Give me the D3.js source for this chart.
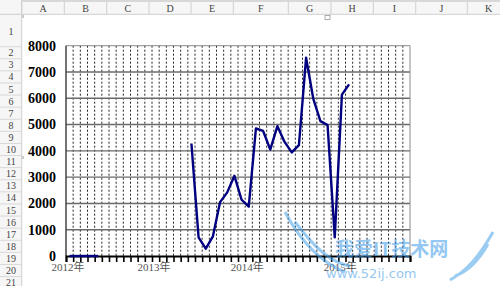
<!DOCTYPE html>
<html>
<head>
<meta charset="utf-8">
<script src="https://d3js.org/d3.v7.min.js"></script>
<style>
body { margin: 0; background: #fff; }
svg { display: block; }
.colhead, .rowhead { font-family: "Liberation Serif", serif; font-size: 10px; fill: #444; }
.ylab { font-family: "Liberation Serif", serif; font-weight: bold; font-size: 14px; fill: #000; }
.xlab { font-family: "Liberation Serif", "Noto Sans CJK SC", serif; font-size: 11px; fill: #555; }
</style>
</head>
<body>
<div id="chart"></div>
<script>
  // sheet columns / rows
  var columns = ["A","B","C","D","E","F","G","H","I","J","K"];
  var colEdges = [21.7, 64.3, 106.7, 149, 191, 233.3, 288.3, 331, 373.3, 415.7, 467.3, 510];
  var rowCount = 21;

  // chart data
  var zeroMonths = ["2012-01","2012-02","2012-03","2012-04","2012-05"];
  var zeroValues = [0, 0, 0, 0, 0];
  var months = ["2013-06","2013-07","2013-08","2013-09","2013-10","2013-11","2013-12",
                "2014-01","2014-02","2014-03","2014-04","2014-05","2014-06","2014-07",
                "2014-08","2014-09","2014-10","2014-11","2014-12","2015-01","2015-02",
                "2015-03","2015-04"];
  var values = [4280, 710, 280, 750, 2050, 2420, 3050, 2140, 1880, 4850, 4760, 4050,
                4940, 4340, 3940, 4220, 7540, 5990, 5130, 4980, 710, 6140, 6530];
  var yTicks = [0, 1000, 2000, 3000, 4000, 5000, 6000, 7000, 8000];
  var yearLabels = ["2012年", "2013年", "2014年", "2015年"];
  var yearLabelMonths = [0, 12, 25, 38];

  var width = 500, height = 286;
  var plotLeft = 66, plotRight = 410, plotTop = 45.7, plotBottom = 256;

  var svg = d3.select("#chart").append("svg").attr("width", width).attr("height", height);

  // ---- spreadsheet frame ----
  svg.append("rect").attr("x", 0).attr("y", 0).attr("width", width).attr("height", 14.3).attr("fill", "#f6f6f6");
  svg.append("rect").attr("x", 0).attr("y", 0).attr("width", width).attr("height", 2).attr("fill", "#d8d8d8");
  svg.append("rect").attr("x", 0).attr("y", 0).attr("width", 21.7).attr("height", height).attr("fill", "#f6f6f6");
  svg.append("line").attr("x1", 0).attr("x2", width).attr("y1", 14.3).attr("y2", 14.3).attr("stroke", "#cfcfcf");
  svg.append("line").attr("x1", 21.7).attr("x2", 21.7).attr("y1", 0).attr("y2", height).attr("stroke", "#cfcfcf");

  svg.selectAll(".colline").data(colEdges).enter().append("line")
    .attr("x1", function(d) { return d; }).attr("x2", function(d) { return d; })
    .attr("y1", 2).attr("y2", 14.3).attr("stroke", "#cfcfcf");
  svg.selectAll(".colhead").data(columns).enter().append("text")
    .attr("class", "colhead")
    .attr("x", function(d, i) { return (colEdges[i] + colEdges[i + 1]) / 2; })
    .attr("y", 11.5).attr("text-anchor", "middle").text(function(d) { return d; });

  var rows = d3.range(1, rowCount + 1);
  function rowCenter(r) { return r == 1 ? 31.7 : 52.7 + (r - 2) * 12.1; }
  svg.selectAll(".rowline").data(rows).enter().append("line")
    .attr("x1", 0).attr("x2", 21.7)
    .attr("y1", function(d) { return rowCenter(d) + (d == 1 ? 15 : 6.05); })
    .attr("y2", function(d) { return rowCenter(d) + (d == 1 ? 15 : 6.05); })
    .attr("stroke", "#d8d8d8");
  svg.selectAll(".rowhead").data(rows).enter().append("text")
    .attr("class", "rowhead")
    .attr("x", 11).attr("y", function(d) { return rowCenter(d) + 3.5; })
    .attr("text-anchor", "middle").text(function(d) { return d; });

  // selection handles of the chart object
  svg.append("rect").attr("x", 325).attr("y", 15.5).attr("width", 5).attr("height", 4)
    .attr("fill", "#fff").attr("stroke", "#999").attr("stroke-width", 0.8);
  svg.append("line").attr("x1", 23).attr("x2", 23).attr("y1", 15).attr("y2", 18).attr("stroke", "#999");
  svg.append("line").attr("x1", 23).attr("x2", 23).attr("y1", 156).attr("y2", 159).attr("stroke", "#999");

  // ---- chart ----
  var parseMonth = d3.timeParse("%Y-%m");
  var origin = parseMonth("2012-01");
  function monthIndex(s) { return d3.timeMonth.count(origin, parseMonth(s)); }

  var x = d3.scaleLinear().domain([0, 48]).range([plotLeft, plotRight]);
  var y = d3.scaleLinear().domain([0, 8000]).range([plotBottom, plotTop]);

  // vertical dotted gridlines, one per month
  svg.selectAll(".vgrid").data(d3.range(1, 48)).enter().append("line")
    .attr("x1", function(d) { return x(d); }).attr("x2", function(d) { return x(d); })
    .attr("y1", plotTop).attr("y2", plotBottom)
    .attr("stroke", "#222").attr("stroke-width", 1).attr("stroke-dasharray", "2,2");

  // horizontal gridlines
  svg.selectAll(".hgrid").data(yTicks.slice(1, -1)).enter().append("line")
    .attr("x1", plotLeft).attr("x2", plotRight)
    .attr("y1", function(d) { return y(d); }).attr("y2", function(d) { return y(d); })
    .attr("stroke", "#6a6a6a").attr("stroke-width", 1.4);

  // plot border
  svg.append("line").attr("x1", plotLeft).attr("x2", plotRight).attr("y1", y(8000)).attr("y2", y(8000))
    .attr("stroke", "#8a8a8a").attr("stroke-width", 1);
  svg.append("line").attr("x1", plotRight).attr("x2", plotRight).attr("y1", plotTop).attr("y2", plotBottom)
    .attr("stroke", "#8a8a8a").attr("stroke-width", 1);
  svg.append("line").attr("x1", plotLeft).attr("x2", plotLeft).attr("y1", plotTop).attr("y2", plotBottom)
    .attr("stroke", "#444").attr("stroke-width", 1.5);

  // y labels
  svg.selectAll(".ylab").data(yTicks).enter().append("text")
    .attr("class", "ylab")
    .attr("x", 56).attr("y", function(d) { return y(d); }).attr("dy", "0.35em")
    .attr("text-anchor", "end").text(function(d) { return d; });

  // x axis with month ticks
  var xAxis = d3.axisBottom(x).tickValues(d3.range(0, 49)).tickSize(6).tickFormat("");
  var gx = svg.append("g").attr("transform", "translate(0," + plotBottom + ")").call(xAxis);
  gx.select(".domain").attr("stroke", "#000").attr("stroke-width", 2);
  gx.selectAll(".tick line").attr("stroke", "#000").attr("stroke-width", 1.6);

  svg.selectAll(".xlab").data(yearLabels).enter().append("text")
    .attr("class", "xlab")
    .attr("x", function(d, i) { return x(yearLabelMonths[i]) + 2; })
    .attr("y", 271).attr("text-anchor", "middle").text(function(d) { return d; });

  // series
  var line = d3.line()
    .x(function(d) { return x(d.m + 0.5); })
    .y(function(d) { return y(d.v); });

  var zeroData = zeroMonths.map(function(m, i) { return {m: monthIndex(m), v: zeroValues[i]}; });
  var mainData = months.map(function(m, i) { return {m: monthIndex(m), v: values[i]}; });

  [zeroData, mainData].forEach(function(seg) {
    svg.append("path").attr("d", line(seg))
      .attr("fill", "none").attr("stroke", "#000080").attr("stroke-width", 2.4)
      .attr("stroke-linejoin", "round");
  });

  // watermark
  var wm = svg.append("g").attr("opacity", 0.55);
  wm.append("path").attr("d", "M285,212 C300,240 320,262 345,272 M295,222 C315,248 330,262 350,266")
    .attr("fill", "none").attr("stroke", "#4aa3e8").attr("stroke-width", 3);
  wm.append("path").attr("d", "M493,232 C480,255 468,270 450,280 M488,244 C478,262 466,272 455,276")
    .attr("fill", "none").attr("stroke", "#4aa3e8").attr("stroke-width", 3);
  wm.append("text").attr("x", 335).attr("y", 256)
    .attr("font-family", "Noto Sans CJK SC").attr("font-weight", "bold").attr("font-size", 19)
    .attr("fill", "#3d9be6").text("我爱IT技术网");
  wm.append("text").attr("x", 326).attr("y", 278)
    .attr("font-family", "DejaVu Sans").attr("font-size", 13)
    .attr("fill", "#3d9be6").text("www.52ij.com");
</script>
</body>
</html>
